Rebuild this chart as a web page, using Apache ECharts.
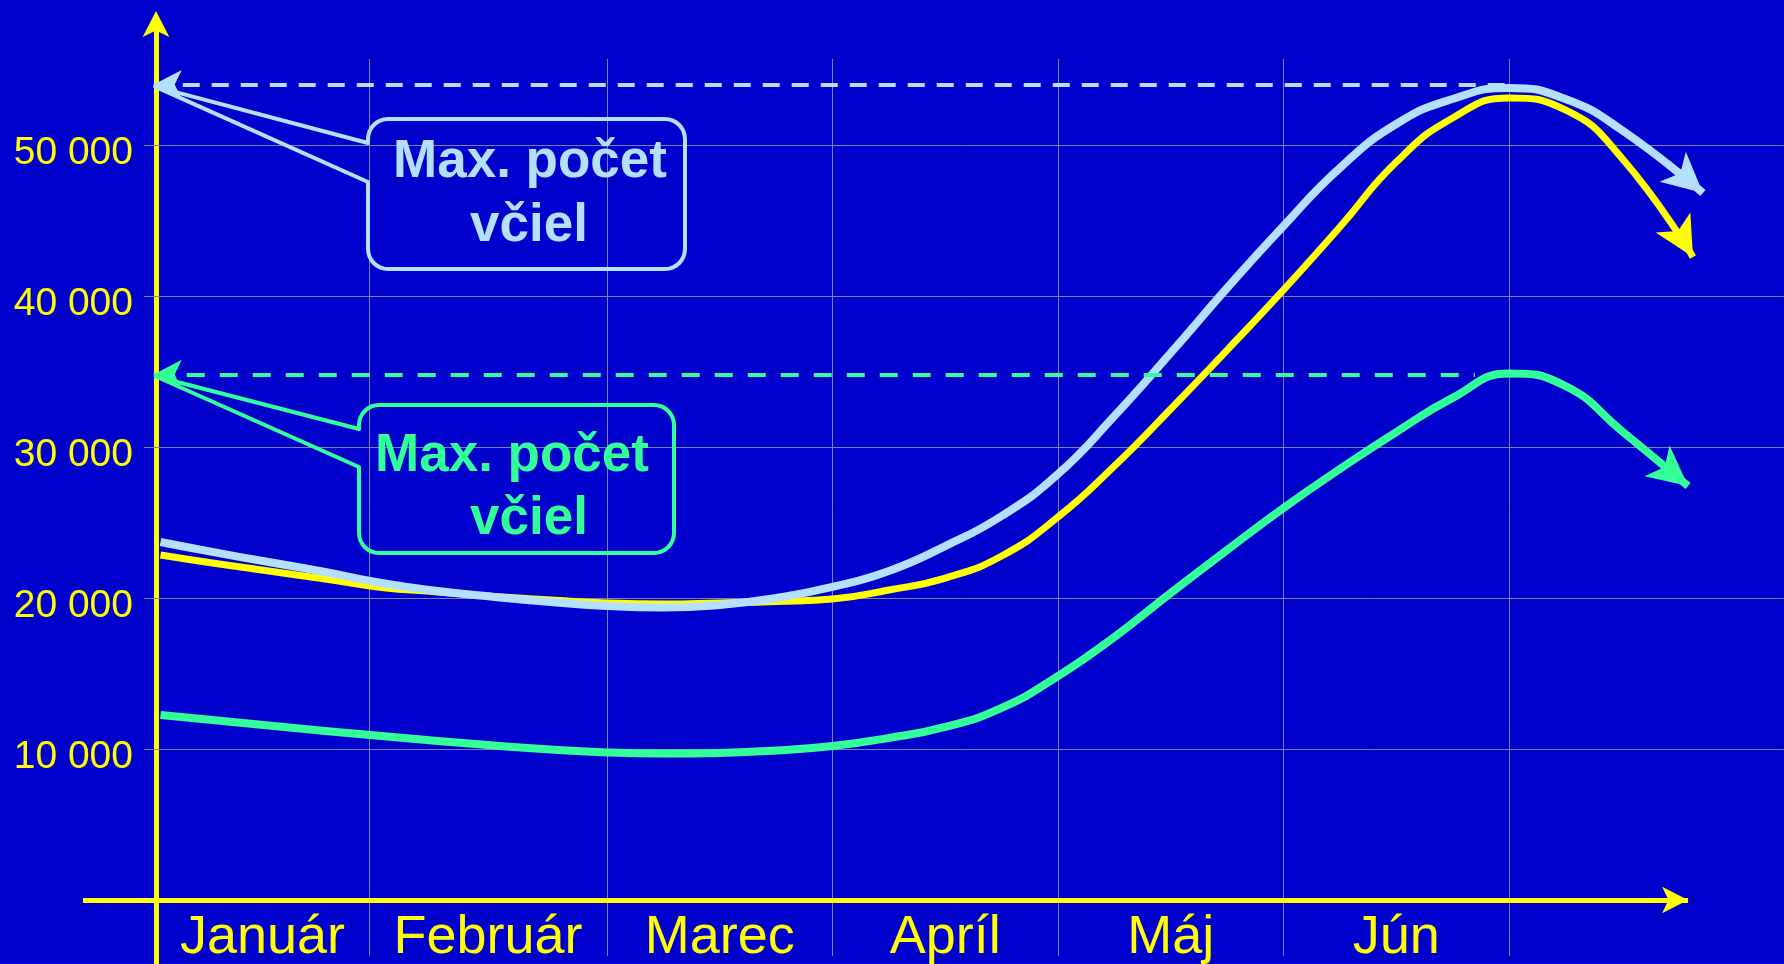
<!DOCTYPE html>
<html lang="sk">
<head>
    <meta charset="UTF-8">
    <title>Max. počet včiel</title>
    <script src="https://cdn.jsdelivr.net/npm/echarts@6/dist/echarts.min.js"></script>
    <style>
        html, body { margin: 0; padding: 0; background: #0000cc; }
        #chart { width: 1784px; height: 964px; }
    </style>
</head>
<body>
<div id="chart"></div>
<script>
    // os x: 1 jednotka = 1 mesiac, 0 = os y
    var months = ['Január', 'Február', 'Marec', 'Apríl', 'Máj', 'Jún'];
    var monthBounds = [0, 0.945, 2, 3, 4, 5, 6];
    var yTicks = [10000, 20000, 30000, 40000, 50000];
    var yTickLabels = ['10 000', '20 000', '30 000', '40 000', '50 000'];

    // x pozície bodov (štvrť mesiaca), posledný bod = hrot šípky
    var stepX = [0.02, 0.25, 0.5, 0.75, 1, 1.25, 1.5, 1.75, 2, 2.25, 2.5, 2.75, 3, 3.25, 3.5, 3.75,
        4, 4.25, 4.5, 4.75, 5, 5.25, 5.5, 5.75, 6, 6.25, 6.5];

    // svetlomodrá krivka
    var blueY = [23710, 23050, 22380, 21720, 20990, 20460, 20070, 19740, 19470, 19370, 19540, 20000, 20730, 21790, 23440, 25430,
        28210, 32050, 36230, 40530, 44640, 48480, 51390, 53050, 53780, 53050, 50990];
    var blueEnd = [6.86, 46820];
    // žltá krivka
    var yellowY = [22850, 22320, 21790, 21260, 20700, 20400, 20100, 19870, 19670, 19600, 19670, 19770, 19930, 20530, 21320, 22780,
        25360, 28740, 32520, 36420, 40400, 44570, 48870, 51790, 53110, 52320, 49140];
    var yellowEnd = [6.816, 42580];
    // zelená krivka
    var greenY = [12250, 11920, 11560, 11190, 10860, 10530, 10230, 9970, 9770, 9700, 9740, 9900, 10200, 10730, 11460, 12720,
        14830, 17420, 20330, 23180, 25960, 28540, 30990, 33250, 34870, 34040, 31060];
    var greenEnd = [6.794, 27420];

    // maximá (prerušované čiary)
    var blueMax = 54000, blueMaxEnd = 6.0;
    var greenMax = 34800, greenMaxEnd = 5.849;

    var BG = '#0000cc';
    var YELLOW = '#ffff00';
    var BLUE = '#b4e0ff';
    var GREEN = '#33ff99';
    var GRIDC = '#7e7eb8';
    var FONT = '"Liberation Sans", Arial, sans-serif';

    var xMin = -0.3237, xMax = 7.2195;
    var yMin = -4240, yMax = 58080;

    var chart = echarts.init(document.getElementById('chart'));

    function pairs(ys, end, arrowSize, arrowRot) {
        var d = stepX.map(function (x, i) { return [x, ys[i]]; });
        d.push({ value: end, symbol: 'arrow', symbolSize: arrowSize, symbolRotate: arrowRot });
        return d;
    }

    var labelPos = [];
    for (var i = 0; i < months.length; i++) {
        labelPos.push((monthBounds[i] + monthBounds[i + 1]) / 2);
    }

    // mriežka
    var gridLines = [];
    yTicks.forEach(function (v) {
        gridLines.push([{ coord: [-0.0532, v] }, { coord: [xMax - 0.001, v] }]);
    });
    monthBounds.slice(1).forEach(function (b) {
        gridLines.push([{ coord: [b, -3700] }, { coord: [b, 55700] }]);
    });

    function curve(name, ys, end, color, width, size, rot, maxVal, maxEnd, dash) {
        var s = {
            name: name,
            type: 'line',
            smooth: 0.5,
            symbol: 'none',
            showSymbol: true,
            z: 3,
            lineStyle: { color: color, width: width, cap: 'butt', join: 'round' },
            itemStyle: { color: color },
            data: pairs(ys, end, size, rot)
        };
        if (maxVal != null) {
            s.markLine = {
                silent: true,
                z: 4,
                symbol: ['arrow', 'none'],
                symbolSize: [22, 28],
                label: { show: false },
                lineStyle: { color: color, width: 4, type: dash },
                itemStyle: { color: color },
                data: [[{ coord: [-0.01, maxVal] }, { coord: [maxEnd, maxVal] }]]
            };
        }
        return s;
    }

    var option = {
        backgroundColor: BG,
        animation: false,
        grid: { left: 83, right: 0, top: 23, bottom: 0, containLabel: false, outerBoundsMode: 'none' },
        xAxis: {
            type: 'value',
            min: xMin,
            max: xMax,
            axisLine: { show: false, onZero: true },
            axisTick: { show: false },
            splitLine: { show: false },
            axisLabel: {
                customValues: labelPos,
                margin: -53,
                color: YELLOW,
                fontSize: 54,
                fontFamily: FONT,
                formatter: function (v) {
                    var best = 0;
                    for (var k = 0; k < labelPos.length; k++) {
                        if (Math.abs(labelPos[k] - v) < Math.abs(labelPos[best] - v)) best = k;
                    }
                    return months[best];
                }
            }
        },
        yAxis: {
            type: 'value',
            min: yMin,
            max: yMax,
            axisLine: {
                show: true,
                onZero: true,
                symbol: ['none', 'arrow'],
                symbolSize: [20, 26],
                symbolOffset: [0, 12],
                lineStyle: { color: YELLOW, width: 5 }
            },
            axisTick: { show: false },
            splitLine: { show: false },
            axisLabel: {
                customValues: yTicks,
                margin: -50,
                verticalAlign: 'top',
                lineHeight: 16,
                color: YELLOW,
                fontSize: 39,
                fontFamily: FONT,
                formatter: function (v) {
                    var k = yTicks.indexOf(v);
                    return k >= 0 ? yTickLabels[k] : '';
                }
            }
        },
        series: [
            {
                name: 'mriežka',
                type: 'line',
                data: [],
                markLine: {
                    silent: true,
                    z: 1,
                    symbol: ['none', 'none'],
                    label: { show: false },
                    lineStyle: { color: GRIDC, width: 1, type: 'solid' },
                    data: gridLines
                }
            },
            {
                name: 'os x',
                type: 'line',
                data: [],
                markLine: {
                    silent: true,
                    z: 2,
                    symbol: ['none', 'arrow'],
                    symbolSize: [20, 26],
                    label: { show: false },
                    lineStyle: { color: YELLOW, width: 5, type: 'solid' },
                    itemStyle: { color: YELLOW },
                    data: [[{ coord: [xMin, 0] }, { coord: [6.794, 0] }]]
                }
            },
            curve('zelená', greenY, greenEnd, GREEN, 8, [30, 40], -129, greenMax, greenMaxEnd, [18, 15]),
            curve('žltá', yellowY, yellowEnd, YELLOW, 7, [30, 40], -150, null),
            curve('svetlomodrá', blueY, blueEnd, BLUE, 8, [30, 40], -131, blueMax, blueMaxEnd, [17, 12])
        ]
    };

    chart.setOption(option);

    // bublina s chvostom smerujúcim k bodu na osi y
    function bubble(ax, ay, l, t, r, b, rad, t1, t2) {
        var pts = [[ax, ay], [l, t1]];
        function arc(cx, cy, a0, a1) {
            for (var k = 0; k <= 8; k++) {
                var a = (a0 + (a1 - a0) * k / 8) * Math.PI / 180;
                pts.push([cx + rad * Math.cos(a), cy + rad * Math.sin(a)]);
            }
        }
        arc(l + rad, t + rad, 180, 270);
        arc(r - rad, t + rad, 270, 360);
        arc(r - rad, b - rad, 0, 90);
        arc(l + rad, b - rad, 90, 180);
        pts.push([l, t2]);
        return pts;
    }

    var pBlue = chart.convertToPixel({ gridIndex: 0 }, [0, blueMax]);
    var pGreen = chart.convertToPixel({ gridIndex: 0 }, [0, greenMax]);
    var boldFont = 'bold 53px ' + FONT;

    chart.setOption({
        graphic: [
            {
                type: 'polygon', z: 100,
                shape: { points: bubble(pBlue[0] - 1, pBlue[1] + 2, 368, 119, 685, 269, 20, 143, 182) },
                style: { fill: 'none', stroke: BLUE, lineWidth: 4, lineJoin: 'round' }
            },
            {
                type: 'text', z: 100, x: 530, y: 162,
                style: { text: 'Max. počet', fill: BLUE, font: boldFont, align: 'center', verticalAlign: 'middle' }
            },
            {
                type: 'text', z: 100, x: 529, y: 226,
                style: { text: 'včiel', fill: BLUE, font: boldFont, align: 'center', verticalAlign: 'middle' }
            },
            {
                type: 'polygon', z: 100,
                shape: { points: bubble(pGreen[0], pGreen[1] + 2, 359, 405, 674, 553, 20, 429, 467) },
                style: { fill: 'none', stroke: GREEN, lineWidth: 4, lineJoin: 'round' }
            },
            {
                type: 'text', z: 100, x: 512, y: 456,
                style: { text: 'Max. počet', fill: GREEN, font: boldFont, align: 'center', verticalAlign: 'middle' }
            },
            {
                type: 'text', z: 100, x: 529, y: 519,
                style: { text: 'včiel', fill: GREEN, font: boldFont, align: 'center', verticalAlign: 'middle' }
            }
        ]
    });
</script>
</body>
</html>
